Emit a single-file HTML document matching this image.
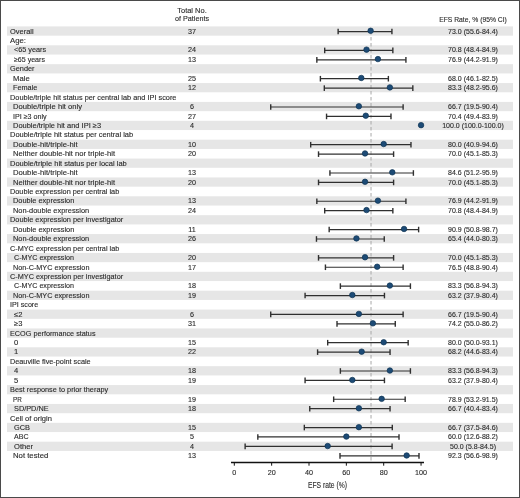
<!DOCTYPE html>
<html><head><meta charset="utf-8"><style>
html,body{margin:0;padding:0;}
body{width:520px;height:498px;position:relative;overflow:hidden;background:#fff;font-family:"Liberation Sans",sans-serif;color:#2b2b2b;}
.a{position:absolute;}
.t{position:absolute;white-space:nowrap;font-size:7.20px;line-height:1;}
.s{position:absolute;left:7.00px;width:506.00px;background:#e6e6e6;}
#tx{position:absolute;left:0;top:0;width:520px;height:498px;filter:grayscale(1);-webkit-text-stroke:0.12px #2b2b2b;}
</style></head><body>

<svg class="a" style="left:0;top:0" width="520" height="498" viewBox="0 0 520 498">
<rect x="7.00" y="26.42" width="506.00" height="9.25" fill="#e6e6e6"/>
<rect x="7.00" y="45.30" width="506.00" height="9.25" fill="#e6e6e6"/>
<rect x="7.00" y="64.17" width="506.00" height="9.25" fill="#e6e6e6"/>
<rect x="7.00" y="83.05" width="506.00" height="9.25" fill="#e6e6e6"/>
<rect x="7.00" y="101.92" width="506.00" height="9.25" fill="#e6e6e6"/>
<rect x="7.00" y="120.80" width="506.00" height="9.25" fill="#e6e6e6"/>
<rect x="7.00" y="139.68" width="506.00" height="9.25" fill="#e6e6e6"/>
<rect x="7.00" y="158.55" width="506.00" height="9.25" fill="#e6e6e6"/>
<rect x="7.00" y="177.43" width="506.00" height="9.25" fill="#e6e6e6"/>
<rect x="7.00" y="196.30" width="506.00" height="9.25" fill="#e6e6e6"/>
<rect x="7.00" y="215.18" width="506.00" height="9.25" fill="#e6e6e6"/>
<rect x="7.00" y="234.06" width="506.00" height="9.25" fill="#e6e6e6"/>
<rect x="7.00" y="252.93" width="506.00" height="9.25" fill="#e6e6e6"/>
<rect x="7.00" y="271.81" width="506.00" height="9.25" fill="#e6e6e6"/>
<rect x="7.00" y="290.68" width="506.00" height="9.25" fill="#e6e6e6"/>
<rect x="7.00" y="309.56" width="506.00" height="9.25" fill="#e6e6e6"/>
<rect x="7.00" y="328.44" width="506.00" height="9.25" fill="#e6e6e6"/>
<rect x="7.00" y="347.31" width="506.00" height="9.25" fill="#e6e6e6"/>
<rect x="7.00" y="366.19" width="506.00" height="9.25" fill="#e6e6e6"/>
<rect x="7.00" y="385.06" width="506.00" height="9.25" fill="#e6e6e6"/>
<rect x="7.00" y="403.94" width="506.00" height="9.25" fill="#e6e6e6"/>
<rect x="7.00" y="422.82" width="506.00" height="9.25" fill="#e6e6e6"/>
<rect x="7.00" y="441.69" width="506.00" height="9.25" fill="#e6e6e6"/>
<line x1="371.03" y1="31.00" x2="371.03" y2="462.50" stroke="#a8a8a8" stroke-width="1.00" stroke-dasharray="3.5,2.5"/>
<line x1="338.13" y1="31.57" x2="391.92" y2="31.57" stroke="#303030" stroke-width="1.20"/>
<line x1="338.13" y1="28.77" x2="338.13" y2="34.37" stroke="#303030" stroke-width="1.40"/>
<line x1="391.92" y1="28.77" x2="391.92" y2="34.37" stroke="#303030" stroke-width="1.40"/>
<circle cx="370.63" cy="30.77" r="2.75" fill="#1d4b76" stroke="#0f3353" stroke-width="0.70"/>
<line x1="324.69" y1="50.42" x2="392.85" y2="50.42" stroke="#303030" stroke-width="1.20"/>
<line x1="324.69" y1="47.62" x2="324.69" y2="53.22" stroke="#303030" stroke-width="1.40"/>
<line x1="392.85" y1="47.62" x2="392.85" y2="53.22" stroke="#303030" stroke-width="1.40"/>
<circle cx="366.52" cy="49.64" r="2.75" fill="#1d4b76" stroke="#0f3353" stroke-width="0.70"/>
<line x1="316.84" y1="59.85" x2="405.92" y2="59.85" stroke="#303030" stroke-width="1.20"/>
<line x1="316.84" y1="57.05" x2="316.84" y2="62.65" stroke="#303030" stroke-width="1.40"/>
<line x1="405.92" y1="57.05" x2="405.92" y2="62.65" stroke="#303030" stroke-width="1.40"/>
<circle cx="377.91" cy="59.08" r="2.75" fill="#1d4b76" stroke="#0f3353" stroke-width="0.70"/>
<line x1="320.39" y1="78.71" x2="388.37" y2="78.71" stroke="#303030" stroke-width="1.20"/>
<line x1="320.39" y1="75.91" x2="320.39" y2="81.51" stroke="#303030" stroke-width="1.40"/>
<line x1="388.37" y1="75.91" x2="388.37" y2="81.51" stroke="#303030" stroke-width="1.40"/>
<circle cx="361.29" cy="77.96" r="2.75" fill="#1d4b76" stroke="#0f3353" stroke-width="0.70"/>
<line x1="324.31" y1="88.14" x2="412.83" y2="88.14" stroke="#303030" stroke-width="1.20"/>
<line x1="324.31" y1="85.34" x2="324.31" y2="90.94" stroke="#303030" stroke-width="1.40"/>
<line x1="412.83" y1="85.34" x2="412.83" y2="90.94" stroke="#303030" stroke-width="1.40"/>
<circle cx="389.86" cy="87.40" r="2.75" fill="#1d4b76" stroke="#0f3353" stroke-width="0.70"/>
<line x1="270.72" y1="106.99" x2="403.12" y2="106.99" stroke="#303030" stroke-width="1.20"/>
<line x1="270.72" y1="104.19" x2="270.72" y2="109.79" stroke="#303030" stroke-width="1.40"/>
<line x1="403.12" y1="104.19" x2="403.12" y2="109.79" stroke="#303030" stroke-width="1.40"/>
<circle cx="358.86" cy="106.27" r="2.75" fill="#1d4b76" stroke="#0f3353" stroke-width="0.70"/>
<line x1="326.55" y1="116.42" x2="390.98" y2="116.42" stroke="#303030" stroke-width="1.20"/>
<line x1="326.55" y1="113.62" x2="326.55" y2="119.22" stroke="#303030" stroke-width="1.40"/>
<line x1="390.98" y1="113.62" x2="390.98" y2="119.22" stroke="#303030" stroke-width="1.40"/>
<circle cx="365.77" cy="115.71" r="2.75" fill="#1d4b76" stroke="#0f3353" stroke-width="0.70"/>
<circle cx="421.05" cy="125.15" r="2.75" fill="#1d4b76" stroke="#0f3353" stroke-width="0.70"/>
<line x1="310.68" y1="144.71" x2="410.97" y2="144.71" stroke="#303030" stroke-width="1.20"/>
<line x1="310.68" y1="141.91" x2="310.68" y2="147.51" stroke="#303030" stroke-width="1.40"/>
<line x1="410.97" y1="141.91" x2="410.97" y2="147.51" stroke="#303030" stroke-width="1.40"/>
<circle cx="383.70" cy="144.03" r="2.75" fill="#1d4b76" stroke="#0f3353" stroke-width="0.70"/>
<line x1="318.52" y1="154.13" x2="393.60" y2="154.13" stroke="#303030" stroke-width="1.20"/>
<line x1="318.52" y1="151.33" x2="318.52" y2="156.93" stroke="#303030" stroke-width="1.40"/>
<line x1="393.60" y1="151.33" x2="393.60" y2="156.93" stroke="#303030" stroke-width="1.40"/>
<circle cx="365.02" cy="153.46" r="2.75" fill="#1d4b76" stroke="#0f3353" stroke-width="0.70"/>
<line x1="329.92" y1="172.99" x2="413.39" y2="172.99" stroke="#303030" stroke-width="1.20"/>
<line x1="329.92" y1="170.19" x2="329.92" y2="175.79" stroke="#303030" stroke-width="1.40"/>
<line x1="413.39" y1="170.19" x2="413.39" y2="175.79" stroke="#303030" stroke-width="1.40"/>
<circle cx="392.29" cy="172.34" r="2.75" fill="#1d4b76" stroke="#0f3353" stroke-width="0.70"/>
<line x1="318.52" y1="182.42" x2="393.60" y2="182.42" stroke="#303030" stroke-width="1.20"/>
<line x1="318.52" y1="179.62" x2="318.52" y2="185.22" stroke="#303030" stroke-width="1.40"/>
<line x1="393.60" y1="179.62" x2="393.60" y2="185.22" stroke="#303030" stroke-width="1.40"/>
<circle cx="365.02" cy="181.78" r="2.75" fill="#1d4b76" stroke="#0f3353" stroke-width="0.70"/>
<line x1="316.84" y1="201.27" x2="405.92" y2="201.27" stroke="#303030" stroke-width="1.20"/>
<line x1="316.84" y1="198.47" x2="316.84" y2="204.07" stroke="#303030" stroke-width="1.40"/>
<line x1="405.92" y1="198.47" x2="405.92" y2="204.07" stroke="#303030" stroke-width="1.40"/>
<circle cx="377.91" cy="200.65" r="2.75" fill="#1d4b76" stroke="#0f3353" stroke-width="0.70"/>
<line x1="324.69" y1="210.70" x2="392.85" y2="210.70" stroke="#303030" stroke-width="1.20"/>
<line x1="324.69" y1="207.90" x2="324.69" y2="213.50" stroke="#303030" stroke-width="1.40"/>
<line x1="392.85" y1="207.90" x2="392.85" y2="213.50" stroke="#303030" stroke-width="1.40"/>
<circle cx="366.52" cy="210.09" r="2.75" fill="#1d4b76" stroke="#0f3353" stroke-width="0.70"/>
<line x1="329.17" y1="229.56" x2="418.62" y2="229.56" stroke="#303030" stroke-width="1.20"/>
<line x1="329.17" y1="226.76" x2="329.17" y2="232.36" stroke="#303030" stroke-width="1.40"/>
<line x1="418.62" y1="226.76" x2="418.62" y2="232.36" stroke="#303030" stroke-width="1.40"/>
<circle cx="404.06" cy="228.97" r="2.75" fill="#1d4b76" stroke="#0f3353" stroke-width="0.70"/>
<line x1="316.47" y1="238.99" x2="384.26" y2="238.99" stroke="#303030" stroke-width="1.20"/>
<line x1="316.47" y1="236.19" x2="316.47" y2="241.79" stroke="#303030" stroke-width="1.40"/>
<line x1="384.26" y1="236.19" x2="384.26" y2="241.79" stroke="#303030" stroke-width="1.40"/>
<circle cx="356.43" cy="238.41" r="2.75" fill="#1d4b76" stroke="#0f3353" stroke-width="0.70"/>
<line x1="318.52" y1="257.84" x2="393.60" y2="257.84" stroke="#303030" stroke-width="1.20"/>
<line x1="318.52" y1="255.04" x2="318.52" y2="260.64" stroke="#303030" stroke-width="1.40"/>
<line x1="393.60" y1="255.04" x2="393.60" y2="260.64" stroke="#303030" stroke-width="1.40"/>
<circle cx="365.02" cy="257.28" r="2.75" fill="#1d4b76" stroke="#0f3353" stroke-width="0.70"/>
<line x1="325.43" y1="267.27" x2="403.12" y2="267.27" stroke="#303030" stroke-width="1.20"/>
<line x1="325.43" y1="264.47" x2="325.43" y2="270.07" stroke="#303030" stroke-width="1.40"/>
<line x1="403.12" y1="264.47" x2="403.12" y2="270.07" stroke="#303030" stroke-width="1.40"/>
<circle cx="377.16" cy="266.72" r="2.75" fill="#1d4b76" stroke="#0f3353" stroke-width="0.70"/>
<line x1="340.37" y1="286.12" x2="410.41" y2="286.12" stroke="#303030" stroke-width="1.20"/>
<line x1="340.37" y1="283.32" x2="340.37" y2="288.93" stroke="#303030" stroke-width="1.40"/>
<line x1="410.41" y1="283.32" x2="410.41" y2="288.93" stroke="#303030" stroke-width="1.40"/>
<circle cx="389.86" cy="285.59" r="2.75" fill="#1d4b76" stroke="#0f3353" stroke-width="0.70"/>
<line x1="305.08" y1="295.55" x2="384.45" y2="295.55" stroke="#303030" stroke-width="1.20"/>
<line x1="305.08" y1="292.75" x2="305.08" y2="298.35" stroke="#303030" stroke-width="1.40"/>
<line x1="384.45" y1="292.75" x2="384.45" y2="298.35" stroke="#303030" stroke-width="1.40"/>
<circle cx="352.33" cy="295.03" r="2.75" fill="#1d4b76" stroke="#0f3353" stroke-width="0.70"/>
<line x1="270.72" y1="314.41" x2="403.12" y2="314.41" stroke="#303030" stroke-width="1.20"/>
<line x1="270.72" y1="311.61" x2="270.72" y2="317.21" stroke="#303030" stroke-width="1.40"/>
<line x1="403.12" y1="311.61" x2="403.12" y2="317.21" stroke="#303030" stroke-width="1.40"/>
<circle cx="358.86" cy="313.91" r="2.75" fill="#1d4b76" stroke="#0f3353" stroke-width="0.70"/>
<line x1="337.01" y1="323.84" x2="395.28" y2="323.84" stroke="#303030" stroke-width="1.20"/>
<line x1="337.01" y1="321.04" x2="337.01" y2="326.64" stroke="#303030" stroke-width="1.40"/>
<line x1="395.28" y1="321.04" x2="395.28" y2="326.64" stroke="#303030" stroke-width="1.40"/>
<circle cx="372.87" cy="323.35" r="2.75" fill="#1d4b76" stroke="#0f3353" stroke-width="0.70"/>
<line x1="327.68" y1="342.69" x2="408.16" y2="342.69" stroke="#303030" stroke-width="1.20"/>
<line x1="327.68" y1="339.89" x2="327.68" y2="345.49" stroke="#303030" stroke-width="1.40"/>
<line x1="408.16" y1="339.89" x2="408.16" y2="345.49" stroke="#303030" stroke-width="1.40"/>
<circle cx="383.70" cy="342.22" r="2.75" fill="#1d4b76" stroke="#0f3353" stroke-width="0.70"/>
<line x1="317.59" y1="352.12" x2="390.05" y2="352.12" stroke="#303030" stroke-width="1.20"/>
<line x1="317.59" y1="349.32" x2="317.59" y2="354.92" stroke="#303030" stroke-width="1.40"/>
<line x1="390.05" y1="349.32" x2="390.05" y2="354.92" stroke="#303030" stroke-width="1.40"/>
<circle cx="361.66" cy="351.66" r="2.75" fill="#1d4b76" stroke="#0f3353" stroke-width="0.70"/>
<line x1="340.37" y1="370.98" x2="410.41" y2="370.98" stroke="#303030" stroke-width="1.20"/>
<line x1="340.37" y1="368.18" x2="340.37" y2="373.78" stroke="#303030" stroke-width="1.40"/>
<line x1="410.41" y1="368.18" x2="410.41" y2="373.78" stroke="#303030" stroke-width="1.40"/>
<circle cx="389.86" cy="370.54" r="2.75" fill="#1d4b76" stroke="#0f3353" stroke-width="0.70"/>
<line x1="305.08" y1="380.40" x2="384.45" y2="380.40" stroke="#303030" stroke-width="1.20"/>
<line x1="305.08" y1="377.60" x2="305.08" y2="383.20" stroke="#303030" stroke-width="1.40"/>
<line x1="384.45" y1="377.60" x2="384.45" y2="383.20" stroke="#303030" stroke-width="1.40"/>
<circle cx="352.33" cy="379.97" r="2.75" fill="#1d4b76" stroke="#0f3353" stroke-width="0.70"/>
<line x1="333.65" y1="399.26" x2="405.18" y2="399.26" stroke="#303030" stroke-width="1.20"/>
<line x1="333.65" y1="396.46" x2="333.65" y2="402.06" stroke="#303030" stroke-width="1.40"/>
<line x1="405.18" y1="396.46" x2="405.18" y2="402.06" stroke="#303030" stroke-width="1.40"/>
<circle cx="381.65" cy="398.85" r="2.75" fill="#1d4b76" stroke="#0f3353" stroke-width="0.70"/>
<line x1="309.75" y1="408.69" x2="390.05" y2="408.69" stroke="#303030" stroke-width="1.20"/>
<line x1="309.75" y1="405.89" x2="309.75" y2="411.49" stroke="#303030" stroke-width="1.40"/>
<line x1="390.05" y1="405.89" x2="390.05" y2="411.49" stroke="#303030" stroke-width="1.40"/>
<circle cx="358.86" cy="408.29" r="2.75" fill="#1d4b76" stroke="#0f3353" stroke-width="0.70"/>
<line x1="304.33" y1="427.54" x2="392.29" y2="427.54" stroke="#303030" stroke-width="1.20"/>
<line x1="304.33" y1="424.74" x2="304.33" y2="430.34" stroke="#303030" stroke-width="1.40"/>
<line x1="392.29" y1="424.74" x2="392.29" y2="430.34" stroke="#303030" stroke-width="1.40"/>
<circle cx="358.86" cy="427.16" r="2.75" fill="#1d4b76" stroke="#0f3353" stroke-width="0.70"/>
<line x1="257.83" y1="436.97" x2="399.01" y2="436.97" stroke="#303030" stroke-width="1.20"/>
<line x1="257.83" y1="434.17" x2="257.83" y2="439.77" stroke="#303030" stroke-width="1.40"/>
<line x1="399.01" y1="434.17" x2="399.01" y2="439.77" stroke="#303030" stroke-width="1.40"/>
<circle cx="346.35" cy="436.60" r="2.75" fill="#1d4b76" stroke="#0f3353" stroke-width="0.70"/>
<line x1="245.13" y1="446.40" x2="392.10" y2="446.40" stroke="#303030" stroke-width="1.20"/>
<line x1="245.13" y1="443.60" x2="245.13" y2="449.20" stroke="#303030" stroke-width="1.40"/>
<line x1="392.10" y1="443.60" x2="392.10" y2="449.20" stroke="#303030" stroke-width="1.40"/>
<circle cx="327.68" cy="446.04" r="2.75" fill="#1d4b76" stroke="#0f3353" stroke-width="0.70"/>
<line x1="340.00" y1="455.83" x2="419.00" y2="455.83" stroke="#303030" stroke-width="1.20"/>
<line x1="340.00" y1="453.03" x2="340.00" y2="458.63" stroke="#303030" stroke-width="1.40"/>
<line x1="419.00" y1="453.03" x2="419.00" y2="458.63" stroke="#303030" stroke-width="1.40"/>
<circle cx="406.67" cy="455.48" r="2.75" fill="#1d4b76" stroke="#0f3353" stroke-width="0.70"/>
<line x1="231.00" y1="462.50" x2="424.00" y2="462.50" stroke="#111" stroke-width="1.30"/>
<line x1="234.30" y1="462.50" x2="234.30" y2="465.70" stroke="#111" stroke-width="1.00"/>
<line x1="271.65" y1="462.50" x2="271.65" y2="465.70" stroke="#111" stroke-width="1.00"/>
<line x1="309.00" y1="462.50" x2="309.00" y2="465.70" stroke="#111" stroke-width="1.00"/>
<line x1="346.35" y1="462.50" x2="346.35" y2="465.70" stroke="#111" stroke-width="1.00"/>
<line x1="383.70" y1="462.50" x2="383.70" y2="465.70" stroke="#111" stroke-width="1.00"/>
<line x1="421.05" y1="462.50" x2="421.05" y2="465.70" stroke="#111" stroke-width="1.00"/>
</svg>
<div id="tx">
<div class="t" style="left:192.00px;top:6.50px;width:0"><span style="position:absolute;transform:translateX(-50%) scaleX(1.040);">Total No.</span></div>
<div class="t" style="left:192.00px;top:14.70px;width:0"><span style="position:absolute;transform:translateX(-50%) scaleX(1.000);">of Patients</span></div>
<div class="t" style="left:473.30px;top:15.50px;width:0"><span style="position:absolute;transform:translateX(-50%) scaleX(0.940);">EFS Rate, % (95% CI)</span></div>
<div class="t" style="left:9.85px;top:27.60px;transform-origin:0 0;transform:scaleX(1.037)">Overall</div>
<div class="t" style="left:192.00px;top:27.60px;width:0"><span style="position:absolute;transform:translateX(-50%) scaleX(1.000);">37</span></div>
<div class="t" style="left:473.30px;top:27.60px;width:0"><span style="position:absolute;transform:translateX(-50%) scaleX(0.975);">73.0 (55.6-84.4)</span></div>
<div class="t" style="left:10.19px;top:37.04px;transform-origin:0 0;transform:scaleX(1.082)">Age:</div>
<div class="t" style="left:13.64px;top:46.48px;transform-origin:0 0;transform:scaleX(1.010)">&lt;65 years</div>
<div class="t" style="left:192.00px;top:46.48px;width:0"><span style="position:absolute;transform:translateX(-50%) scaleX(1.000);">24</span></div>
<div class="t" style="left:473.30px;top:46.48px;width:0"><span style="position:absolute;transform:translateX(-50%) scaleX(0.975);">70.8 (48.4-84.9)</span></div>
<div class="t" style="left:13.78px;top:55.91px;transform-origin:0 0;transform:scaleX(0.981)">≥65 years</div>
<div class="t" style="left:192.00px;top:55.91px;width:0"><span style="position:absolute;transform:translateX(-50%) scaleX(1.000);">13</span></div>
<div class="t" style="left:473.30px;top:55.91px;width:0"><span style="position:absolute;transform:translateX(-50%) scaleX(0.975);">76.9 (44.2-91.9)</span></div>
<div class="t" style="left:9.83px;top:65.35px;transform-origin:0 0;transform:scaleX(1.022)">Gender</div>
<div class="t" style="left:13.37px;top:74.79px;transform-origin:0 0;transform:scaleX(1.072)">Male</div>
<div class="t" style="left:192.00px;top:74.79px;width:0"><span style="position:absolute;transform:translateX(-50%) scaleX(1.000);">25</span></div>
<div class="t" style="left:473.30px;top:74.79px;width:0"><span style="position:absolute;transform:translateX(-50%) scaleX(0.975);">68.0 (46.1-82.5)</span></div>
<div class="t" style="left:13.40px;top:84.23px;transform-origin:0 0;transform:scaleX(1.017)">Female</div>
<div class="t" style="left:192.00px;top:84.23px;width:0"><span style="position:absolute;transform:translateX(-50%) scaleX(1.000);">12</span></div>
<div class="t" style="left:473.30px;top:84.23px;width:0"><span style="position:absolute;transform:translateX(-50%) scaleX(0.975);">83.3 (48.2-95.6)</span></div>
<div class="t" style="left:9.60px;top:93.67px;transform-origin:0 0;transform:scaleX(1.021)">Double/triple hit status per central lab and IPI score</div>
<div class="t" style="left:13.37px;top:103.10px;transform-origin:0 0;transform:scaleX(1.060)">Double/triple hit only</div>
<div class="t" style="left:192.00px;top:103.10px;width:0"><span style="position:absolute;transform:translateX(-50%) scaleX(1.000);">6</span></div>
<div class="t" style="left:473.30px;top:103.10px;width:0"><span style="position:absolute;transform:translateX(-50%) scaleX(0.975);">66.7 (19.5-90.4)</span></div>
<div class="t" style="left:13.34px;top:112.54px;transform-origin:0 0;transform:scaleX(0.991)">IPI ≥3 only</div>
<div class="t" style="left:192.00px;top:112.54px;width:0"><span style="position:absolute;transform:translateX(-50%) scaleX(1.000);">27</span></div>
<div class="t" style="left:473.30px;top:112.54px;width:0"><span style="position:absolute;transform:translateX(-50%) scaleX(0.975);">70.4 (49.4-83.9)</span></div>
<div class="t" style="left:13.39px;top:121.98px;transform-origin:0 0;transform:scaleX(1.040)">Double/triple hit and IPI ≥3</div>
<div class="t" style="left:192.00px;top:121.98px;width:0"><span style="position:absolute;transform:translateX(-50%) scaleX(1.000);">4</span></div>
<div class="t" style="left:473.30px;top:121.98px;width:0"><span style="position:absolute;transform:translateX(-50%) scaleX(0.975);">100.0 (100.0-100.0)</span></div>
<div class="t" style="left:9.59px;top:131.42px;transform-origin:0 0;transform:scaleX(1.038)">Double/triple hit status per central lab</div>
<div class="t" style="left:13.37px;top:140.86px;transform-origin:0 0;transform:scaleX(1.071)">Double-hit/triple-hit</div>
<div class="t" style="left:192.00px;top:140.86px;width:0"><span style="position:absolute;transform:translateX(-50%) scaleX(1.000);">10</span></div>
<div class="t" style="left:473.30px;top:140.86px;width:0"><span style="position:absolute;transform:translateX(-50%) scaleX(0.975);">80.0 (40.9-94.6)</span></div>
<div class="t" style="left:13.38px;top:150.29px;transform-origin:0 0;transform:scaleX(1.056)">Neither double-hit nor triple-hit</div>
<div class="t" style="left:192.00px;top:150.29px;width:0"><span style="position:absolute;transform:translateX(-50%) scaleX(1.000);">20</span></div>
<div class="t" style="left:473.30px;top:150.29px;width:0"><span style="position:absolute;transform:translateX(-50%) scaleX(0.975);">70.0 (45.1-85.3)</span></div>
<div class="t" style="left:9.58px;top:159.73px;transform-origin:0 0;transform:scaleX(1.044)">Double/triple hit status per local lab</div>
<div class="t" style="left:13.37px;top:169.17px;transform-origin:0 0;transform:scaleX(1.071)">Double-hit/triple-hit</div>
<div class="t" style="left:192.00px;top:169.17px;width:0"><span style="position:absolute;transform:translateX(-50%) scaleX(1.000);">13</span></div>
<div class="t" style="left:473.30px;top:169.17px;width:0"><span style="position:absolute;transform:translateX(-50%) scaleX(0.975);">84.6 (51.2-95.9)</span></div>
<div class="t" style="left:13.38px;top:178.61px;transform-origin:0 0;transform:scaleX(1.056)">Neither double-hit nor triple-hit</div>
<div class="t" style="left:192.00px;top:178.61px;width:0"><span style="position:absolute;transform:translateX(-50%) scaleX(1.000);">20</span></div>
<div class="t" style="left:473.30px;top:178.61px;width:0"><span style="position:absolute;transform:translateX(-50%) scaleX(0.975);">70.0 (45.1-85.3)</span></div>
<div class="t" style="left:9.60px;top:188.05px;transform-origin:0 0;transform:scaleX(1.020)">Double expression per central lab</div>
<div class="t" style="left:13.39px;top:197.48px;transform-origin:0 0;transform:scaleX(1.029)">Double expression</div>
<div class="t" style="left:192.00px;top:197.48px;width:0"><span style="position:absolute;transform:translateX(-50%) scaleX(1.000);">13</span></div>
<div class="t" style="left:473.30px;top:197.48px;width:0"><span style="position:absolute;transform:translateX(-50%) scaleX(0.975);">76.9 (44.2-91.9)</span></div>
<div class="t" style="left:13.39px;top:206.92px;transform-origin:0 0;transform:scaleX(1.031)">Non-double expression</div>
<div class="t" style="left:192.00px;top:206.92px;width:0"><span style="position:absolute;transform:translateX(-50%) scaleX(1.000);">24</span></div>
<div class="t" style="left:473.30px;top:206.92px;width:0"><span style="position:absolute;transform:translateX(-50%) scaleX(0.975);">70.8 (48.4-84.9)</span></div>
<div class="t" style="left:9.60px;top:216.36px;transform-origin:0 0;transform:scaleX(1.024)">Double expression per investigator</div>
<div class="t" style="left:13.39px;top:225.80px;transform-origin:0 0;transform:scaleX(1.029)">Double expression</div>
<div class="t" style="left:192.00px;top:225.80px;width:0"><span style="position:absolute;transform:translateX(-50%) scaleX(1.000);">11</span></div>
<div class="t" style="left:473.30px;top:225.80px;width:0"><span style="position:absolute;transform:translateX(-50%) scaleX(0.975);">90.9 (50.8-98.7)</span></div>
<div class="t" style="left:13.39px;top:235.24px;transform-origin:0 0;transform:scaleX(1.031)">Non-double expression</div>
<div class="t" style="left:192.00px;top:235.24px;width:0"><span style="position:absolute;transform:translateX(-50%) scaleX(1.000);">26</span></div>
<div class="t" style="left:473.30px;top:235.24px;width:0"><span style="position:absolute;transform:translateX(-50%) scaleX(0.975);">65.4 (44.0-80.3)</span></div>
<div class="t" style="left:9.83px;top:244.67px;transform-origin:0 0;transform:scaleX(1.013)">C-MYC expression per central lab</div>
<div class="t" style="left:13.64px;top:254.11px;transform-origin:0 0;transform:scaleX(0.994)">C-MYC expression</div>
<div class="t" style="left:192.00px;top:254.11px;width:0"><span style="position:absolute;transform:translateX(-50%) scaleX(1.000);">20</span></div>
<div class="t" style="left:473.30px;top:254.11px;width:0"><span style="position:absolute;transform:translateX(-50%) scaleX(0.975);">70.0 (45.1-85.3)</span></div>
<div class="t" style="left:13.40px;top:263.55px;transform-origin:0 0;transform:scaleX(1.007)">Non-C-MYC expression</div>
<div class="t" style="left:192.00px;top:263.55px;width:0"><span style="position:absolute;transform:translateX(-50%) scaleX(1.000);">17</span></div>
<div class="t" style="left:473.30px;top:263.55px;width:0"><span style="position:absolute;transform:translateX(-50%) scaleX(0.975);">76.5 (48.8-90.4)</span></div>
<div class="t" style="left:9.83px;top:272.99px;transform-origin:0 0;transform:scaleX(1.015)">C-MYC expression per investigator</div>
<div class="t" style="left:13.64px;top:282.43px;transform-origin:0 0;transform:scaleX(0.994)">C-MYC expression</div>
<div class="t" style="left:192.00px;top:282.43px;width:0"><span style="position:absolute;transform:translateX(-50%) scaleX(1.000);">18</span></div>
<div class="t" style="left:473.30px;top:282.43px;width:0"><span style="position:absolute;transform:translateX(-50%) scaleX(0.975);">83.3 (56.8-94.3)</span></div>
<div class="t" style="left:13.40px;top:291.86px;transform-origin:0 0;transform:scaleX(1.007)">Non-C-MYC expression</div>
<div class="t" style="left:192.00px;top:291.86px;width:0"><span style="position:absolute;transform:translateX(-50%) scaleX(1.000);">19</span></div>
<div class="t" style="left:473.30px;top:291.86px;width:0"><span style="position:absolute;transform:translateX(-50%) scaleX(0.975);">63.2 (37.9-80.4)</span></div>
<div class="t" style="left:9.54px;top:301.30px;transform-origin:0 0;transform:scaleX(0.995)">IPI score</div>
<div class="t" style="left:13.77px;top:310.74px;transform-origin:0 0;transform:scaleX(1.051)">≤2</div>
<div class="t" style="left:192.00px;top:310.74px;width:0"><span style="position:absolute;transform:translateX(-50%) scaleX(1.000);">6</span></div>
<div class="t" style="left:473.30px;top:310.74px;width:0"><span style="position:absolute;transform:translateX(-50%) scaleX(0.975);">66.7 (19.5-90.4)</span></div>
<div class="t" style="left:13.76px;top:320.18px;transform-origin:0 0;transform:scaleX(1.046)">≥3</div>
<div class="t" style="left:192.00px;top:320.18px;width:0"><span style="position:absolute;transform:translateX(-50%) scaleX(1.000);">31</span></div>
<div class="t" style="left:473.30px;top:320.18px;width:0"><span style="position:absolute;transform:translateX(-50%) scaleX(0.975);">74.2 (55.0-86.2)</span></div>
<div class="t" style="left:9.60px;top:329.62px;transform-origin:0 0;transform:scaleX(1.010)">ECOG performance status</div>
<div class="t" style="left:14.00px;top:339.05px;transform-origin:0 0;transform:scaleX(1.060)">0</div>
<div class="t" style="left:192.00px;top:339.05px;width:0"><span style="position:absolute;transform:translateX(-50%) scaleX(1.000);">15</span></div>
<div class="t" style="left:473.30px;top:339.05px;width:0"><span style="position:absolute;transform:translateX(-50%) scaleX(0.975);">80.0 (50.0-93.1)</span></div>
<div class="t" style="left:14.00px;top:348.49px;transform-origin:0 0;transform:scaleX(1.060)">1</div>
<div class="t" style="left:192.00px;top:348.49px;width:0"><span style="position:absolute;transform:translateX(-50%) scaleX(1.000);">22</span></div>
<div class="t" style="left:473.30px;top:348.49px;width:0"><span style="position:absolute;transform:translateX(-50%) scaleX(0.975);">68.2 (44.6-83.4)</span></div>
<div class="t" style="left:9.60px;top:357.93px;transform-origin:0 0;transform:scaleX(1.014)">Deauville five-point scale</div>
<div class="t" style="left:14.00px;top:367.37px;transform-origin:0 0;transform:scaleX(1.060)">4</div>
<div class="t" style="left:192.00px;top:367.37px;width:0"><span style="position:absolute;transform:translateX(-50%) scaleX(1.000);">18</span></div>
<div class="t" style="left:473.30px;top:367.37px;width:0"><span style="position:absolute;transform:translateX(-50%) scaleX(0.975);">83.3 (56.8-94.3)</span></div>
<div class="t" style="left:14.00px;top:376.81px;transform-origin:0 0;transform:scaleX(1.060)">5</div>
<div class="t" style="left:192.00px;top:376.81px;width:0"><span style="position:absolute;transform:translateX(-50%) scaleX(1.000);">19</span></div>
<div class="t" style="left:473.30px;top:376.81px;width:0"><span style="position:absolute;transform:translateX(-50%) scaleX(0.975);">63.2 (37.9-80.4)</span></div>
<div class="t" style="left:9.60px;top:386.24px;transform-origin:0 0;transform:scaleX(1.020)">Best response to prior therapy</div>
<div class="t" style="left:13.48px;top:395.68px;transform-origin:0 0;transform:scaleX(0.881)">PR</div>
<div class="t" style="left:192.00px;top:395.68px;width:0"><span style="position:absolute;transform:translateX(-50%) scaleX(1.000);">19</span></div>
<div class="t" style="left:473.30px;top:395.68px;width:0"><span style="position:absolute;transform:translateX(-50%) scaleX(0.975);">78.9 (53.2-91.5)</span></div>
<div class="t" style="left:13.67px;top:405.12px;transform-origin:0 0;transform:scaleX(1.019)">SD/PD/NE</div>
<div class="t" style="left:192.00px;top:405.12px;width:0"><span style="position:absolute;transform:translateX(-50%) scaleX(1.000);">18</span></div>
<div class="t" style="left:473.30px;top:405.12px;width:0"><span style="position:absolute;transform:translateX(-50%) scaleX(0.975);">66.7 (40.4-83.4)</span></div>
<div class="t" style="left:9.82px;top:414.56px;transform-origin:0 0;transform:scaleX(1.048)">Cell of origin</div>
<div class="t" style="left:13.63px;top:424.00px;transform-origin:0 0;transform:scaleX(1.026)">GCB</div>
<div class="t" style="left:192.00px;top:424.00px;width:0"><span style="position:absolute;transform:translateX(-50%) scaleX(1.000);">15</span></div>
<div class="t" style="left:473.30px;top:424.00px;width:0"><span style="position:absolute;transform:translateX(-50%) scaleX(0.975);">66.7 (37.5-84.6)</span></div>
<div class="t" style="left:13.99px;top:433.43px;transform-origin:0 0;transform:scaleX(0.982)">ABC</div>
<div class="t" style="left:192.00px;top:433.43px;width:0"><span style="position:absolute;transform:translateX(-50%) scaleX(1.000);">5</span></div>
<div class="t" style="left:473.30px;top:433.43px;width:0"><span style="position:absolute;transform:translateX(-50%) scaleX(0.975);">60.0 (12.6-88.2)</span></div>
<div class="t" style="left:13.64px;top:442.87px;transform-origin:0 0;transform:scaleX(1.054)">Other</div>
<div class="t" style="left:192.00px;top:442.87px;width:0"><span style="position:absolute;transform:translateX(-50%) scaleX(1.000);">4</span></div>
<div class="t" style="left:473.30px;top:442.87px;width:0"><span style="position:absolute;transform:translateX(-50%) scaleX(0.975);">50.0 (5.8-84.5)</span></div>
<div class="t" style="left:13.36px;top:452.31px;transform-origin:0 0;transform:scaleX(1.078)">Not tested</div>
<div class="t" style="left:192.00px;top:452.31px;width:0"><span style="position:absolute;transform:translateX(-50%) scaleX(1.000);">13</span></div>
<div class="t" style="left:473.30px;top:452.31px;width:0"><span style="position:absolute;transform:translateX(-50%) scaleX(0.975);">92.3 (56.6-98.9)</span></div>
<div class="t" style="left:234.30px;top:469.40px;width:0;font-size:7.20px"><span style="position:absolute;transform:translateX(-50%) scaleX(1.000);">0</span></div>
<div class="t" style="left:271.65px;top:469.40px;width:0;font-size:7.20px"><span style="position:absolute;transform:translateX(-50%) scaleX(1.000);">20</span></div>
<div class="t" style="left:309.00px;top:469.40px;width:0;font-size:7.20px"><span style="position:absolute;transform:translateX(-50%) scaleX(1.000);">40</span></div>
<div class="t" style="left:346.35px;top:469.40px;width:0;font-size:7.20px"><span style="position:absolute;transform:translateX(-50%) scaleX(1.000);">60</span></div>
<div class="t" style="left:383.70px;top:469.40px;width:0;font-size:7.20px"><span style="position:absolute;transform:translateX(-50%) scaleX(1.000);">80</span></div>
<div class="t" style="left:421.05px;top:469.40px;width:0;font-size:7.20px"><span style="position:absolute;transform:translateX(-50%) scaleX(1.000);">100</span></div>
<div class="t" style="left:308.30px;top:481.00px;font-size:9.30px;transform-origin:0 0;transform:scaleX(0.725)">EFS rate (%)</div>
</div>
<div class="a" style="left:0;top:0;width:520px;height:1.20px;background:#4a4a4a"></div>
<div class="a" style="left:0;top:0;width:1.10px;height:498px;background:#4a4a4a"></div>
<div class="a" style="right:0;top:0;width:1.20px;height:498px;background:#4a4a4a"></div>
<div class="a" style="left:0;bottom:0;width:520px;height:1.50px;background:#4a4a4a"></div>
</body></html>
